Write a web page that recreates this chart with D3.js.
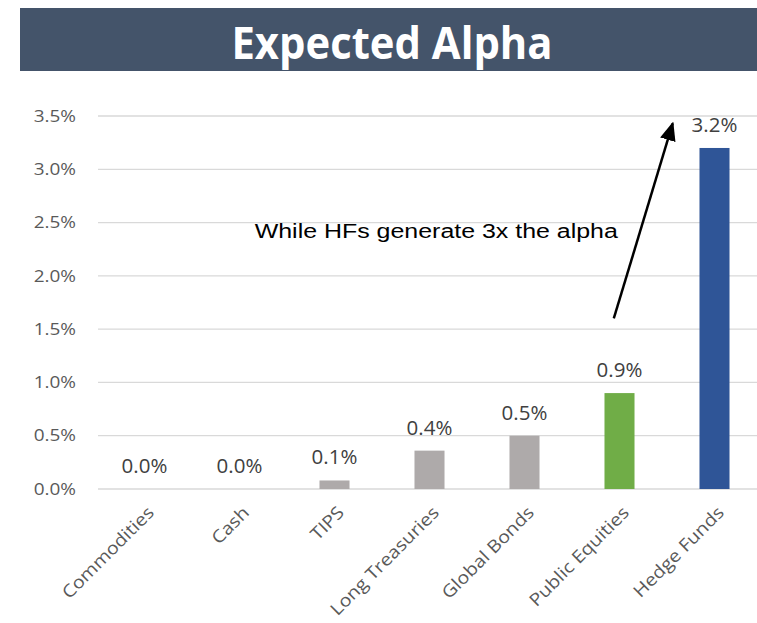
<!DOCTYPE html>
<html>
<head>
<meta charset="utf-8">
<script src="https://cdn.jsdelivr.net/npm/d3@7"></script>
<style>
  html, body { margin: 0; padding: 0; background: #ffffff; }
  svg { display: block; }
</style>
</head>
<body>
<script>
// Expected alpha by asset class (percent)
const categories = ["Commodities", "Cash", "TIPS", "Long Treasuries", "Global Bonds", "Public Equities", "Hedge Funds"];
const alphaValues = [0.0, 0.0, 0.08, 0.36, 0.5, 0.9, 3.2];
const barColors = ["#AEAAAA", "#AEAAAA", "#AEAAAA", "#AEAAAA", "#AEAAAA", "#70AD47", "#2F5597"];
const yTickValues = [0, 0.5, 1.0, 1.5, 2.0, 2.5, 3.0, 3.5];
const titleText = "Expected Alpha";
const noteText = "While HFs generate 3x the alpha";
// Arrow and note positions, in category-index / percent units
const arrowFrom = [4.94, 1.6];
const arrowTo = [5.56, 3.43];
const notePos = [1.16, 2.355];

const W = 757, H = 623;
const svg = d3.select("body").append("svg")
  .attr("width", W).attr("height", H)
  .attr("viewBox", `0 0 ${W} ${H}`);

// Title banner
svg.append("rect")
  .attr("x", 20).attr("y", 8).attr("width", W - 20).attr("height", 63)
  .attr("fill", "#44546A");
svg.append("text")
  .attr("transform", "translate(392,59) scale(0.95,1)")
  .attr("text-anchor", "middle")
  .attr("font-family", "'Open Sans', sans-serif")
  .attr("font-weight", 700)
  .attr("font-size", 44)
  .attr("fill", "#ffffff")
  .text(titleText);

// Scales
const x = d3.scaleBand()
  .domain(categories)
  .range([97, 762])
  .paddingInner(0.684)
  .paddingOuter(0.342);
const y = d3.scaleLinear().domain([0, 3.5]).range([489, 116]);
const idxX = d3.scaleLinear()
  .domain([0, 1])
  .range([x(categories[0]) + x.bandwidth() / 2, x(categories[1]) + x.bandwidth() / 2]);

// Gridlines
svg.append("g")
  .selectAll("line")
  .data(yTickValues)
  .join("line")
  .attr("x1", 98).attr("x2", 762)
  .attr("y1", d => y(d)).attr("y2", d => y(d))
  .attr("stroke", "#D9D9D9")
  .attr("stroke-width", 1.3);

// Y axis labels
const fmt = d => d.toFixed(1) + "%";
svg.append("g")
  .selectAll("text")
  .data(yTickValues)
  .join("text")
  .attr("transform", d => `translate(76,${y(d)}) scale(1.2,1)`)
  .attr("dy", "0.36em")
  .attr("text-anchor", "end")
  .attr("font-family", "'Open Sans', sans-serif")
  .attr("font-size", 15.8)
  .attr("fill", "#595959")
  .text(fmt);

// Bars
const rows = categories.map((c, i) => ({ cat: c, v: alphaValues[i], color: barColors[i] }));
svg.append("g")
  .selectAll("rect")
  .data(rows)
  .join("rect")
  .attr("x", d => x(d.cat))
  .attr("width", x.bandwidth())
  .attr("y", d => y(d.v))
  .attr("height", d => y(0) - y(d.v))
  .attr("fill", d => d.color);

// Value labels
svg.append("g")
  .selectAll("text")
  .data(rows)
  .join("text")
  .attr("x", d => x(d.cat) + x.bandwidth() / 2)
  .attr("y", d => y(d.v) - 16)
  .attr("text-anchor", "middle")
  .attr("font-family", "'Open Sans', sans-serif")
  .attr("font-size", 20.5)
  .attr("fill", "#404040")
  .text(d => fmt(d.v));

// Category labels (rotated)
svg.append("g")
  .selectAll("text")
  .data(categories)
  .join("text")
  .attr("transform", d => `translate(${x(d) + x.bandwidth() / 2 + 2},${505}) rotate(-45) scale(1.13,1)`)
  .attr("dy", "0.71em")
  .attr("text-anchor", "end")
  .attr("font-family", "'Open Sans', sans-serif")
  .attr("font-size", 17.4)
  .attr("fill", "#595959")
  .text(d => d);

// Annotation arrow
const defs = svg.append("defs");
defs.append("marker")
  .attr("id", "head")
  .attr("viewBox", "0 0 19 16")
  .attr("refX", 17).attr("refY", 8)
  .attr("markerWidth", 19).attr("markerHeight", 16)
  .attr("markerUnits", "userSpaceOnUse")
  .attr("orient", "auto")
  .append("path")
  .attr("d", "M0,0 L19,8 L0,16 Z")
  .attr("fill", "#000");

svg.append("line")
  .attr("x1", idxX(arrowFrom[0])).attr("y1", y(arrowFrom[1]))
  .attr("x2", idxX(arrowTo[0])).attr("y2", y(arrowTo[1]))
  .attr("stroke", "#000")
  .attr("stroke-width", 2.5)
  .attr("marker-end", "url(#head)");

svg.append("text")
  .attr("transform", `translate(${idxX(notePos[0])},${y(notePos[1])}) scale(1.28,1)`)
  .attr("font-family", "'Liberation Sans', Arial, sans-serif")
  .attr("font-size", 19.5)
  .attr("fill", "#000")
  .text(noteText);
</script>
</body>
</html>
